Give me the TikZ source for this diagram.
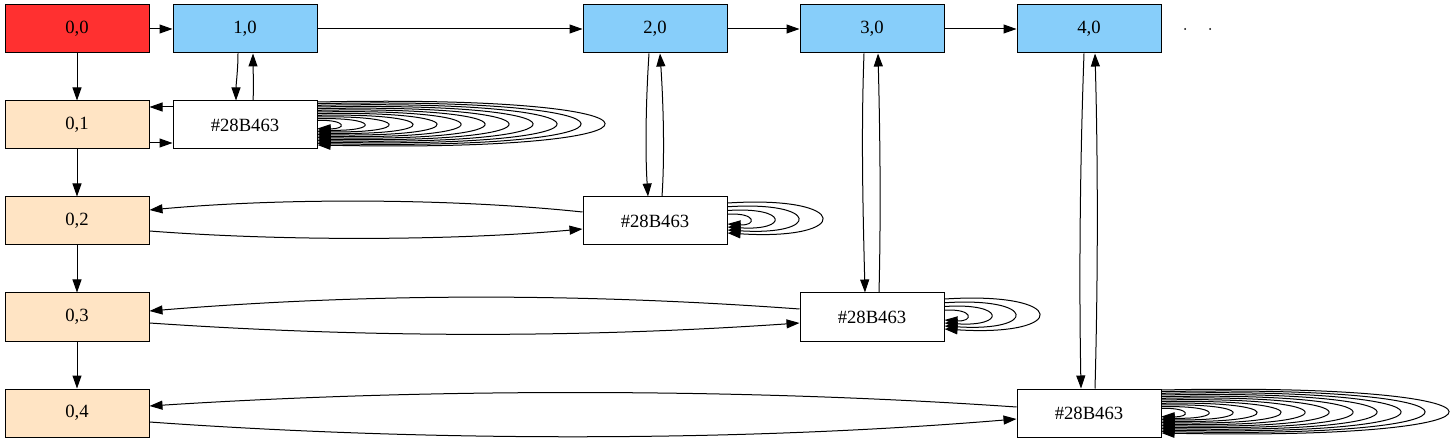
\documentclass[tikz,border=0pt]{standalone}
\usepackage{fontspec}
\setmainfont{Liberation Serif}
\usetikzlibrary{arrows.meta,calc}
\definecolor{cred}{RGB}{255,48,48}
\definecolor{csky}{RGB}{135,206,250}
\definecolor{cbisque}{RGB}{255,228,196}
% #1 node, #2 count, #3 #4 start-up offset a+b f, #5 #6 end-down offset, #7 extra dy
\newcommand\selfloops[7]{%
  \foreach \k in {1,...,#2}{%
    \pgfmathsetmacro\ff{\k/#2}%
    \pgfmathsetmacro\cc{(22+24*(\k-1))/0.75}%
    \pgfmathsetmacro\su{#3+#4*\ff}%
    \pgfmathsetmacro\sd{#5+#6*\ff}%
    \pgfmathsetmacro\dd{#7*\ff}%
    \draw[arr] ([yshift=\su pt]#1.east) .. controls +(\cc,-\dd) and +(\cc,\dd) .. ([yshift=-\sd pt]#1.east);
  }}
\begin{document}
\begin{tikzpicture}[x=1pt,y=-1pt,
  box/.style={draw, line width=1pt, minimum width=144pt, minimum height=48pt, inner sep=0pt, font=\fontsize{18.67}{22}\selectfont},
  arr/.style={-{Triangle[length=13pt,width=9pt]}, line width=1pt},
  dotn/.style={circle, fill=black, inner sep=0pt, minimum size=2pt}]
\useasboundingbox (0,0) rectangle (1455,443);
% nodes
\node[box, fill=cred] (n00) at (77,29) {0,0};
\node[box, fill=csky] (n10) at (245,29) {1,0};
\node[box, fill=csky] (n20) at (655,29) {2,0};
\node[box, fill=csky] (n30) at (872,29) {3,0};
\node[box, fill=csky] (n40) at (1089,29) {4,0};
\node[dotn] (d1) at (1185,29) {};
\node[dotn] (d2) at (1210,29) {};
\node[box, fill=cbisque] (n01) at (77,125) {0,1};
\node[box, fill=cbisque] (n02) at (77,221) {0,2};
\node[box, fill=cbisque] (n03) at (77,317) {0,3};
\node[box, fill=cbisque] (n04) at (77,413) {0,4};
\node[box, fill=white] (h1) at (245,125) {\#28B463};
\node[box, fill=white] (h2) at (655,221) {\#28B463};
\node[box, fill=white] (h3) at (872,317) {\#28B463};
\node[box, fill=white] (h4) at (1089,413) {\#28B463};
% top row and left column
\draw[arr] (n00) -- (n10);
\draw[arr] (n10) -- (n20);
\draw[arr] (n20) -- (n30);
\draw[arr] (n30) -- (n40);
\draw[arr] (n00) -- (n01);
\draw[arr] (n01) -- (n02);
\draw[arr] (n02) -- (n03);
\draw[arr] (n03) -- (n04);
% column 1
\draw[arr] ([xshift=-7pt]n10.south) .. controls +(0,16) and +(0,-16) .. ([xshift=-9pt]h1.north);
\draw[arr] ([xshift=8pt]h1.north) .. controls +(1,-16) and +(0,16) .. ([xshift=8pt]n10.south);
\draw[arr] ([yshift=18pt]h1.west) -- ([yshift=18pt]n01.east);
\draw[arr] ([yshift=-18pt]n01.east) -- ([yshift=-18pt]h1.west);
% column 2
\draw[arr] ([xshift=-6pt]n20.south) .. controls +(-3,45) and +(-3,-45) .. ([xshift=-7pt]h2.north);
\draw[arr] ([xshift=7pt]h2.north) .. controls +(3,-45) and +(3,45) .. ([xshift=5pt]n20.south);
\draw[arr] ([yshift=9pt]h2.west) .. controls (450,198) and (280,198) .. ([yshift=11pt]n02.east);
\draw[arr] ([yshift=-10pt]n02.east) .. controls (280,241) and (450,241) .. ([yshift=-8pt]h2.west);
% column 3
\draw[arr] ([xshift=-8pt]n30.south) .. controls +(-3,80) and +(-2,-80) .. ([xshift=-7pt]h3.north);
\draw[arr] ([xshift=7pt]h3.north) .. controls +(2,-80) and +(2,80) .. ([xshift=6pt]n30.south);
\draw[arr] ([yshift=8pt]h3.west) .. controls (580,293) and (370,293) .. ([yshift=6pt]n03.east);
\draw[arr] ([yshift=-6pt]n03.east) .. controls (370,338) and (580,338) .. ([yshift=-6pt]h3.west);
% column 4
\draw[arr] ([xshift=-5pt]n40.south) .. controls +(-4,110) and +(-2,-110) .. ([xshift=-8pt]h4.north);
\draw[arr] ([xshift=6pt]h4.north) .. controls +(3,-110) and +(3,110) .. ([xshift=6pt]n40.south);
\draw[arr] ([yshift=6pt]h4.west) .. controls (740,388) and (430,388) .. ([yshift=7pt]n04.east);
\draw[arr] ([yshift=-9pt]n04.east) .. controls (430,442) and (740,442) .. ([yshift=-6pt]h4.west);
% self loops
\selfloops{h1}{12}{3}{20}{2}{18}{8}
\selfloops{h2}{4}{3}{15}{0}{12}{8}
\selfloops{h3}{4}{3}{15}{0}{12}{8}
\selfloops{h4}{12}{3}{20}{2}{18}{8}
\end{tikzpicture}
\end{document}
